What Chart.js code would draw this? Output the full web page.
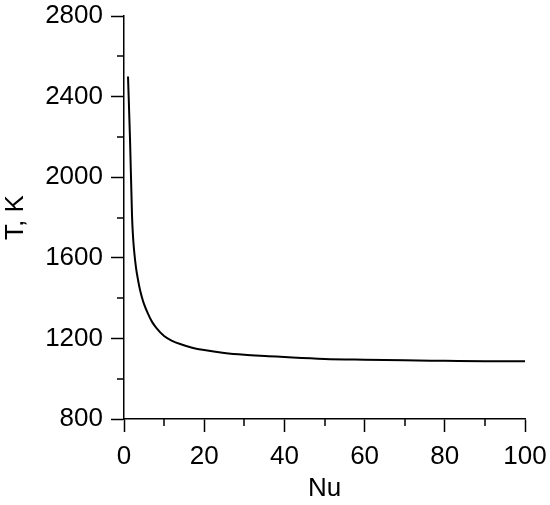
<!DOCTYPE html>
<html>
<head>
<meta charset="utf-8">
<script src="https://cdn.jsdelivr.net/npm/chart.js@4"></script>
<style>
  html, body { margin: 0; padding: 0; background: #fff; }
  #wrap { width: 550px; height: 505px; }
</style>
</head>
<body>
<div id="wrap"><canvas id="myChart" width="550" height="505"></canvas></div>
<script>
// Nu values and temperature
const nuValues = [1, 1.5, 2, 2.2, 2.5, 3, 3.5, 4, 4.5, 5, 6, 7, 8, 10, 12, 14, 17, 20, 25, 30, 36, 42, 50, 60, 70, 80, 90, 100];
const tempValues = [2500, 2190, 1810, 1722, 1640, 1550, 1490, 1440, 1402, 1370, 1322, 1282, 1254, 1212, 1188, 1172, 1154, 1142, 1128, 1119, 1112, 1105, 1098, 1094, 1091, 1089, 1087, 1086];

const xMinorTicks = [10, 30, 50, 70, 90];
const yMinorTicks = [1000, 1400, 1800, 2200, 2600];

const FONT = "'Liberation Sans', Arial, sans-serif";

function makeChart() {
  const ctx = document.getElementById("myChart");

  // short minor tick marks, drawn from the scales
  const minorTicks = {
    id: "minorTicks",
    afterDraw(chart) {
      const c = chart.ctx;
      const xs = chart.scales.x;
      const ys = chart.scales.y;
      c.save();
      c.strokeStyle = "#000";
      c.lineWidth = 1.5;
      c.beginPath();
      xMinorTicks.forEach((v) => {
        const px = Math.round(xs.getPixelForValue(v));
        c.moveTo(px, xs.top);
        c.lineTo(px, xs.top + 7);
      });
      yMinorTicks.forEach((v) => {
        const py = Math.round(ys.getPixelForValue(v));
        c.moveTo(ys.right, py);
        c.lineTo(ys.right - 7, py);
      });
      c.stroke();
      c.restore();
    },
  };

  new Chart(ctx, {
    type: "line",
    data: {
      datasets: [
        {
          data: nuValues.map((n, i) => ({ x: n, y: tempValues[i] })),
          borderColor: "#000",
          borderWidth: 2,
          pointRadius: 0,
          cubicInterpolationMode: "monotone",
          fill: false,
        },
      ],
    },
    options: {
      responsive: false,
      animation: false,
      devicePixelRatio: 1,
      layout: { padding: { top: 16, right: 25, left: 0, bottom: 0 } },
      plugins: { legend: { display: false }, tooltip: { enabled: false } },
      scales: {
        x: {
          type: "linear",
          min: 0,
          max: 100,
          border: { display: true, color: "#000", width: 1.5 },
          grid: {
            display: true,
            drawOnChartArea: false,
            drawTicks: true,
            tickLength: 13,
            tickWidth: 1.5,
            tickColor: "#000",
          },
          ticks: {
            stepSize: 20,
            color: "#000",
            padding: 9,
            font: { family: FONT, size: 26 },
            maxRotation: 0,
            callback: (v) => String(v),
          },
          title: {
            display: true,
            text: "Nu",
            color: "#000",
            padding: { top: 0, bottom: 1 },
            font: { family: FONT, size: 26 },
          },
          afterFit(scale) {
            scale.height = 86;
            scale.paddingLeft = 0;
            scale.paddingRight = 0;
          },
        },
        y: {
          type: "linear",
          min: 800,
          max: 2800,
          border: { display: true, color: "#000", width: 1.5 },
          grid: {
            display: true,
            drawOnChartArea: false,
            drawTicks: true,
            tickLength: 13,
            tickWidth: 1.5,
            tickColor: "#000",
          },
          ticks: {
            stepSize: 400,
            color: "#000",
            padding: 8,
            font: { family: FONT, size: 26 },
            callback: (v) => String(v),
          },
          title: {
            display: true,
            text: "T, K",
            color: "#000",
            padding: { top: 0, bottom: 4 },
            font: { family: FONT, size: 26 },
          },
          afterFit(scale) {
            scale.width = 124;
            scale.paddingTop = 0;
            scale.paddingBottom = 0;
          },
        },
      },
    },
    plugins: [minorTicks],
  });
}

makeChart();
</script>
</body>
</html>
